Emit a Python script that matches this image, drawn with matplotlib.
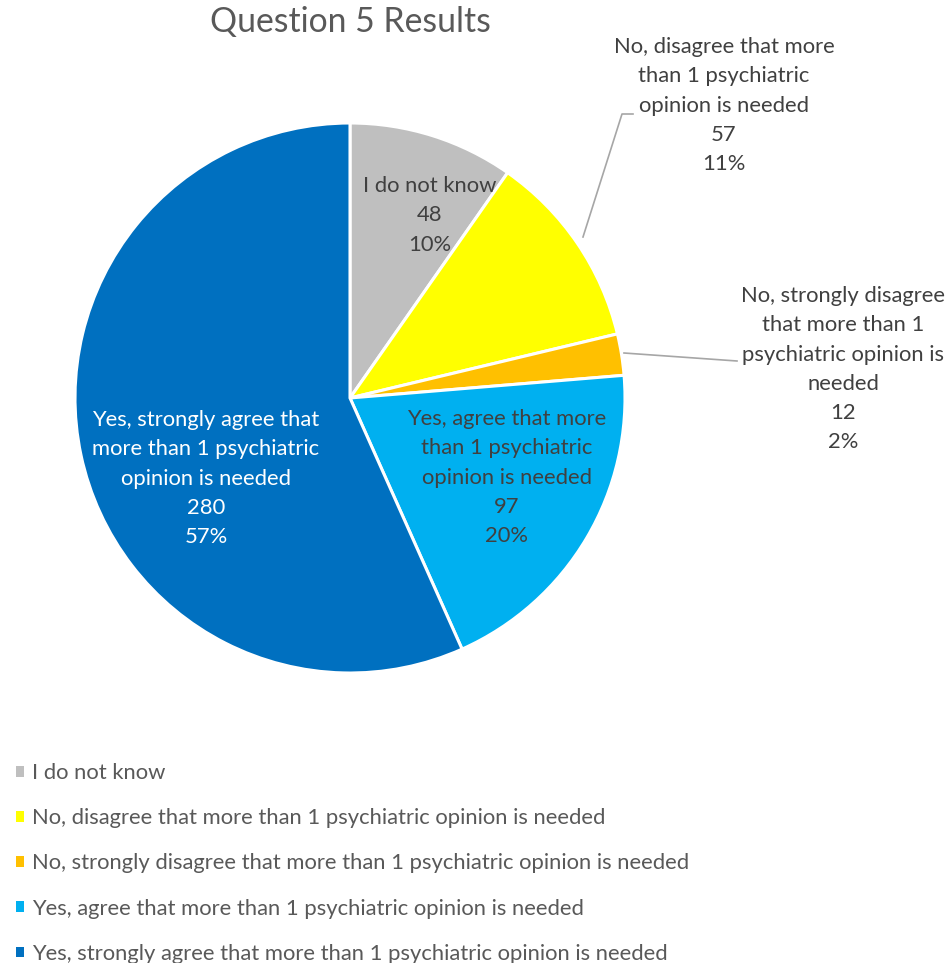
import matplotlib
matplotlib.use("Agg")
import matplotlib.pyplot as plt
from matplotlib.lines import Line2D

plt.rcParams['font.family'] = ['Lato', 'DejaVu Sans']

categories = [
    "I do not know",
    "No, disagree that more than 1 psychiatric opinion is needed",
    "No, strongly disagree that more than 1 psychiatric opinion is needed",
    "Yes, agree that more than 1 psychiatric opinion is needed",
    "Yes, strongly agree that more than 1 psychiatric opinion is needed",
]
counts = [48, 57, 12, 97, 280]
pct_labels = ["10%", "11%", "2%", "20%", "57%"]
label_lines = [
    ["I do not know"],
    ["No, disagree that more", "than 1 psychiatric", "opinion is needed"],
    ["No, strongly disagree", "that more than 1", "psychiatric opinion is", "needed"],
    ["Yes, agree that more", "than 1 psychiatric", "opinion is needed"],
    ["Yes, strongly agree that", "more than 1 psychiatric", "opinion is needed"],
]
colors = ["#BFBFBF", "#FFFF00", "#FFC000", "#00B0F0", "#0070C0"]
title = "Question 5 Results"

W, H = 950, 963
fig = plt.figure(figsize=(W / 100, H / 100), dpi=100)
fig.patch.set_facecolor("white")


def fx(x):
    return x / W


def fy(y):
    return 1 - y / H


# pie occupies a 550 px square centred at (350, 398)
ax = fig.add_axes([fx(75), fy(673), 550 / W, 550 / H])
wedges, _ = ax.pie(counts, colors=colors, startangle=90, counterclock=False,
                   radius=1.0, wedgeprops=dict(edgecolor="white", linewidth=2.2))
ax.set_xlim(-1, 1)
ax.set_ylim(-1, 1)
ax.set_aspect("equal")
ax.axis("off")

fig.text(fx(350), fy(22), title, ha="center", va="center", fontsize=24.3,
         color="#595959")

# data label block: (centre x, first line y) in pixels, text colour
label_pos = [
    (430, 186, "#404040"),
    (724, 47, "#404040"),
    (843, 296, "#404040"),
    (507, 419, "#404040"),
    (206, 420, "#FFFFFF"),
]
fs = 15.8
pitch = 29.3
for lines, n, pct, (cx, y0, col) in zip(label_lines, counts, pct_labels, label_pos):
    for i, s in enumerate(lines + [str(n), pct]):
        fig.text(fx(cx), fy(y0 + i * pitch), s, ha="center", va="center",
                 fontsize=fs, color=col)

# leader lines for the outside labels
fig.add_artist(Line2D([fx(583), fx(622), fx(633)], [fy(237), fy(114), fy(114)],
                      color="#A6A6A6", linewidth=1.2))
fig.add_artist(Line2D([fx(624), fx(737)], [fy(353), fy(361)],
                      color="#A6A6A6", linewidth=1.2))

# legend
leg = fig.legend(wedges, categories, loc="upper left",
                 bbox_to_anchor=(fx(16), fy(763)), frameon=False,
                 fontsize=fs, handlelength=0.38, handleheight=0.38,
                 handletextpad=0.36, labelspacing=1.15, labelcolor="#595959",
                 borderaxespad=0, borderpad=0)
for h in leg.legend_handles:
    h.set_edgecolor("none")

fig.savefig("out.png", dpi=100, facecolor="white")
